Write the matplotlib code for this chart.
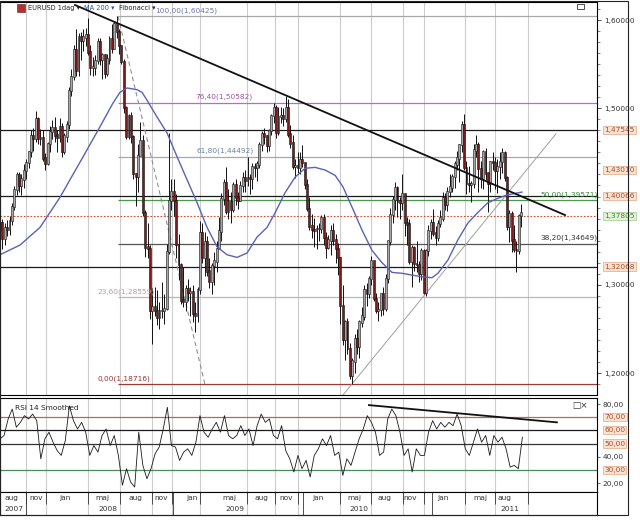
import numpy as np
import matplotlib.pyplot as plt
from matplotlib.patches import Rectangle
from matplotlib.transforms import blended_transform_factory

# Veckoljus EURUSD, vecka 0 = 6 aug 2007
first_open = 1.362
close = [1.370, 1.352, 1.364, 1.362, 1.372, 1.388, 1.407, 1.424, 1.412, 1.419,
         1.429, 1.438, 1.450, 1.468, 1.465, 1.487, 1.465, 1.466, 1.443, 1.437,
         1.459, 1.473, 1.477, 1.469, 1.466, 1.478, 1.451, 1.468, 1.481, 1.519,
         1.535, 1.566, 1.542, 1.580, 1.576, 1.580, 1.583, 1.563, 1.546, 1.546,
         1.553, 1.575, 1.555, 1.560, 1.539, 1.555, 1.578, 1.567, 1.595, 1.586,
         1.570, 1.552, 1.500, 1.467, 1.491, 1.467, 1.425, 1.422, 1.446, 1.462,
         1.381, 1.342, 1.340, 1.270, 1.275, 1.270, 1.262, 1.270, 1.270, 1.272,
         1.337, 1.395, 1.405, 1.395, 1.345, 1.322, 1.282, 1.280, 1.295, 1.291,
         1.292, 1.267, 1.265, 1.294, 1.358, 1.330, 1.348, 1.315, 1.303, 1.321,
         1.326, 1.340, 1.360, 1.397, 1.415, 1.383, 1.393, 1.385, 1.413, 1.398,
         1.395, 1.412, 1.421, 1.418, 1.421, 1.420, 1.433, 1.432, 1.436, 1.458,
         1.470, 1.468, 1.457, 1.474, 1.491, 1.500, 1.472, 1.490, 1.491, 1.488,
         1.500, 1.470, 1.460, 1.434, 1.434, 1.432, 1.441, 1.438, 1.413, 1.386,
         1.366, 1.362, 1.361, 1.363, 1.363, 1.375, 1.353, 1.342, 1.350, 1.361,
         1.350, 1.340, 1.330, 1.276, 1.237, 1.257, 1.227, 1.197, 1.213, 1.238,
         1.230, 1.257, 1.264, 1.294, 1.290, 1.306, 1.327, 1.284, 1.270, 1.271,
         1.289, 1.272, 1.306, 1.349, 1.379, 1.396, 1.409, 1.394, 1.393, 1.403,
         1.370, 1.368, 1.326, 1.341, 1.323, 1.322, 1.312, 1.338, 1.291, 1.338,
         1.361, 1.370, 1.358, 1.353, 1.369, 1.375, 1.398, 1.390, 1.405, 1.410,
         1.422, 1.436, 1.443, 1.458, 1.481, 1.432, 1.414, 1.413, 1.414, 1.452,
         1.458, 1.431, 1.420, 1.450, 1.426, 1.414, 1.439, 1.438, 1.429, 1.433,
         1.439, 1.449, 1.421, 1.365, 1.380, 1.350, 1.339, 1.338, 1.378, 1.381]
high = [1.380, 1.375, 1.370, 1.373, 1.378, 1.393, 1.412, 1.428, 1.428, 1.425,
        1.437, 1.442, 1.452, 1.475, 1.478, 1.497, 1.490, 1.477, 1.475, 1.449,
        1.462, 1.480, 1.487, 1.490, 1.475, 1.489, 1.483, 1.472, 1.486, 1.524,
        1.545, 1.572, 1.590, 1.585, 1.586, 1.590, 1.591, 1.602, 1.572, 1.558,
        1.560, 1.580, 1.580, 1.563, 1.562, 1.561, 1.582, 1.595, 1.599, 1.604,
        1.590, 1.570, 1.556, 1.503, 1.493, 1.496, 1.470, 1.427, 1.460, 1.484,
        1.470, 1.385, 1.370, 1.345, 1.296, 1.298, 1.294, 1.280, 1.303, 1.290,
        1.346, 1.472, 1.420, 1.420, 1.403, 1.358, 1.325, 1.320, 1.300, 1.306,
        1.298, 1.300, 1.280, 1.297, 1.372, 1.370, 1.360, 1.355, 1.330, 1.325,
        1.337, 1.350, 1.377, 1.404, 1.420, 1.434, 1.408, 1.405, 1.417, 1.420,
        1.405, 1.418, 1.428, 1.430, 1.445, 1.426, 1.438, 1.438, 1.440, 1.462,
        1.474, 1.478, 1.470, 1.477, 1.493, 1.506, 1.504, 1.501, 1.501, 1.500,
        1.514, 1.510, 1.481, 1.470, 1.442, 1.451, 1.450, 1.458, 1.439, 1.420,
        1.400, 1.380, 1.376, 1.368, 1.370, 1.379, 1.380, 1.360, 1.356, 1.368,
        1.370, 1.358, 1.347, 1.332, 1.300, 1.260, 1.262, 1.234, 1.217, 1.244,
        1.250, 1.260, 1.275, 1.300, 1.302, 1.310, 1.333, 1.323, 1.291, 1.280,
        1.290, 1.297, 1.312, 1.350, 1.387, 1.401, 1.417, 1.412, 1.400, 1.425,
        1.403, 1.377, 1.375, 1.345, 1.344, 1.350, 1.327, 1.342, 1.340, 1.341,
        1.368, 1.375, 1.386, 1.367, 1.373, 1.385, 1.405, 1.404, 1.411, 1.425,
        1.426, 1.440, 1.452, 1.460, 1.485, 1.494, 1.440, 1.435, 1.418, 1.460,
        1.470, 1.462, 1.440, 1.453, 1.455, 1.425, 1.440, 1.450, 1.445, 1.442,
        1.450, 1.455, 1.452, 1.423, 1.385, 1.384, 1.368, 1.350, 1.380, 1.392]
low = [1.355, 1.340, 1.345, 1.355, 1.356, 1.368, 1.385, 1.402, 1.405, 1.402,
       1.410, 1.420, 1.432, 1.445, 1.452, 1.462, 1.460, 1.458, 1.440, 1.430,
       1.436, 1.450, 1.465, 1.462, 1.450, 1.462, 1.445, 1.448, 1.462, 1.477,
       1.514, 1.532, 1.536, 1.537, 1.555, 1.565, 1.570, 1.560, 1.538, 1.536,
       1.538, 1.550, 1.549, 1.533, 1.534, 1.536, 1.550, 1.563, 1.567, 1.580,
       1.562, 1.550, 1.495, 1.465, 1.465, 1.461, 1.420, 1.389, 1.405, 1.447,
       1.378, 1.332, 1.330, 1.261, 1.233, 1.265, 1.254, 1.250, 1.262, 1.255,
       1.271, 1.335, 1.385, 1.378, 1.330, 1.305, 1.278, 1.275, 1.270, 1.282,
       1.265, 1.258, 1.246, 1.258, 1.290, 1.325, 1.310, 1.310, 1.296, 1.290,
       1.300, 1.315, 1.348, 1.350, 1.390, 1.380, 1.374, 1.370, 1.382, 1.390,
       1.386, 1.395, 1.405, 1.405, 1.412, 1.403, 1.408, 1.422, 1.418, 1.432,
       1.452, 1.460, 1.451, 1.452, 1.470, 1.483, 1.466, 1.470, 1.483, 1.480,
       1.484, 1.467, 1.455, 1.431, 1.421, 1.427, 1.426, 1.434, 1.409, 1.384,
       1.362, 1.353, 1.343, 1.340, 1.350, 1.359, 1.345, 1.330, 1.341, 1.334,
       1.345, 1.325, 1.311, 1.255, 1.232, 1.215, 1.221, 1.193, 1.188, 1.200,
       1.222, 1.217, 1.252, 1.260, 1.276, 1.285, 1.300, 1.282, 1.268, 1.259,
       1.265, 1.266, 1.270, 1.302, 1.345, 1.370, 1.385, 1.377, 1.374, 1.385,
       1.355, 1.345, 1.323, 1.297, 1.316, 1.315, 1.303, 1.305, 1.289, 1.287,
       1.333, 1.352, 1.355, 1.345, 1.350, 1.365, 1.372, 1.385, 1.384, 1.400,
       1.405, 1.410, 1.430, 1.416, 1.450, 1.430, 1.403, 1.405, 1.394, 1.410,
       1.445, 1.405, 1.410, 1.408, 1.419, 1.383, 1.405, 1.430, 1.408, 1.404,
       1.420, 1.427, 1.418, 1.362, 1.349, 1.337, 1.337, 1.315, 1.335, 1.365]

# MA 200 (blå linje), avläst
ma_week = [0, 8.4, 16.8, 25.2, 29.4, 34.9, 42, 47.5, 50.4, 53.4, 57.6, 59.7, 61.8,
           66, 70.2, 74.4, 78.6, 82.8, 87, 91.2, 95.4, 99.6, 103.8, 108, 112.2,
           115.5, 119.7, 124, 128.2, 132.4, 136.6, 140.8, 144.1, 147.9, 152.1,
           156.3, 160.5, 164.7, 168.9, 173.1, 177.3, 181.5, 184, 188.2, 192.4,
           196.6, 200.8, 205, 209.2, 213.4, 219.3]
ma_value = [1.334, 1.345, 1.365, 1.399, 1.419, 1.445, 1.479, 1.506, 1.518, 1.523,
            1.521, 1.518, 1.509, 1.490, 1.472, 1.445, 1.419, 1.393, 1.365, 1.343,
            1.334, 1.331, 1.336, 1.354, 1.365, 1.381, 1.404, 1.422, 1.432, 1.433,
            1.430, 1.424, 1.411, 1.388, 1.362, 1.339, 1.325, 1.314, 1.313, 1.311,
            1.309, 1.308, 1.313, 1.328, 1.351, 1.370, 1.382, 1.393, 1.398, 1.402,
            1.405]

# Fibonacci
fib_pct = ['100,00', '76,40', '61,80', '50,00', '38,20', '23,60', '0,00']
fib_price = [1.60425, 1.50582, 1.44492, 1.39571, 1.34649, 1.28559, 1.18716]

# horisontella linjer
level_price = [1.47545, 1.40066, 1.32068]
last_price = 1.37805
extra_label = 1.43010

# trendlinjer (vecka, pris)
down_trend = [(31.5, 1.6170), (237.4, 1.3790)]
up_trend = [(144.1, 1.1750), (233.6, 1.4710)]
fib_diag = [(49.6, 1.60425), (86.1, 1.18716)]

# RSI 14 Smoothed
rsi = [53.6, 56.1, 68.7, 76.2, 62.4, 66.1, 71.2, 68.7, 72.4, 67.4, 38.4, 53.6, 58.6,
       51.0, 44.7, 41.0, 52.3, 78.7, 67.4, 61.1, 66.1, 58.6, 41.0, 48.5, 43.5, 56.1,
       61.1, 48.5, 56.1, 41.0, 18.3, 30.9, 20.8, 17.0, 58.6, 33.4, 23.3, 30.9, 42.2,
       47.3, 61.1, 77.5, 48.5, 47.3, 37.2, 43.5, 46.0, 41.0, 51.0, 71.2, 58.6, 54.8,
       61.1, 66.1, 58.6, 71.2, 56.1, 53.6, 56.1, 63.6, 56.1, 61.1, 48.5, 63.6, 72.4,
       66.1, 68.7, 56.1, 53.6, 63.6, 44.7, 38.4, 28.4, 41.0, 30.9, 37.2, 24.6, 41.0,
       46.0, 53.6, 48.5, 56.1, 41.0, 43.5, 25.8, 38.4, 33.4, 43.5, 53.6, 61.1, 71.2,
       66.1, 58.6, 41.0, 43.5, 68.7, 76.2, 71.2, 58.6, 41.0, 46.0, 28.4, 46.0, 41.0,
       41.0, 58.6, 67.4, 61.1, 66.1, 62.4, 66.1, 63.6, 72.4, 63.6, 46.0, 41.0, 51.0,
       61.1, 51.0, 56.1, 41.0, 56.1, 51.0, 54.8, 46.0, 32.1, 33.4, 30.9, 54.8]
rsi_levels = [70, 60, 50, 30]
rsi_trend = [(155.0, 79.2), (234.0, 66.1)]

months = ['aug', 'nov', 'jan', 'maj', 'aug', 'nov', 'jan', 'maj', 'aug', 'nov',
          'jan', 'maj', 'aug', 'nov', 'jan', 'maj', 'aug']
years = ['2007', '2008', '2009', '2010', '2011']

# layout i pixlar
PX = 2.38  # pixlar per vecka
month_px = [11, 36, 65, 102, 135, 161, 192, 229, 261, 286, 318, 354, 384, 410, 443, 480, 504]
year_px = [14, 108, 235, 359, 510]
grid_px = [26, 46, 88, 120, 152, 172, 200, 247, 275, 298, 340, 371, 403, 424, 465, 495, 528]
yearsep_px = [26, 173, 303, 432]

W, H = 640, 525
fig = plt.figure(figsize=(6.4, 5.25), dpi=100)
fs = 5.3

ax = fig.add_axes([0, 1 - 395 / H, 597 / W, 393 / H])
ax2 = fig.add_axes([0, 1 - 492 / H, 597 / W, 94 / H])
ax3 = fig.add_axes([0, 1 - 515 / H, 597 / W, 23 / H])
xmax = 597 / PX
for a in (ax, ax2, ax3):
    a.set_xlim(0, xmax)
    for g in grid_px:
        a.axvline(g / PX, color='#cccccc', lw=0.8, zorder=0)

# --- pris ---
close = np.array(close)
high = np.array(high)
low = np.array(low)
opens = np.r_[first_open, close[:-1]]
weeks = np.arange(len(close))
up = close >= opens
ax.vlines(weeks, low, high, color='#111111', lw=0.7, zorder=3)
ax.bar(weeks[up], (close - opens)[up] + 0.0015, bottom=opens[up], width=0.8,
       color='#a8a8a8', edgecolor='#111111', lw=0.4, zorder=4)
ax.bar(weeks[~up], (opens - close)[~up] + 0.0015, bottom=close[~up], width=0.8,
       color='#7a1a1a', edgecolor='#111111', lw=0.4, zorder=4)

ax.plot(ma_week, ma_value, color='#5a62b4', lw=1.0, zorder=5)

fib_colors = ['#a8a8a8', '#b070c0', '#a8a8a8', '#4a9a4a', '#555555', '#b8b8b8', '#a03838']
fib_text_col = ['#6878a8', '#a050a8', '#7080a0', '#3a8a3a', '#333333', '#c09a9a', '#a03030']
fib_label_px = [155, 195, 197, 540, 540, 97, 98]
fib_start = 118 / PX
for p, lab, c, tc, lx in zip(fib_price, fib_pct, fib_colors, fib_text_col, fib_label_px):
    ax.hlines(p, fib_start, xmax, color=c, lw=0.9, zorder=2)
    ax.text(lx / PX, p + 0.003, '%s(%s)' % (lab, ('%.5f' % p).replace('.', ',')),
            fontsize=fs, color=tc, va='bottom', ha='left', zorder=6)

for p in level_price:
    ax.axhline(p, color='#1a1a1a', lw=0.9, zorder=2)
ax.axhline(last_price, color='#d04a30', lw=0.8, ls=(0, (1.5, 1.5)), zorder=2)

ax.plot(*zip(*down_trend), color='#111111', lw=1.3, zorder=6)
ax.plot(*zip(*up_trend), color='#a0a0a0', lw=0.7, zorder=2)
ax.plot(*zip(*fib_diag), color='#909090', lw=0.8, ls=(0, (4, 3)), zorder=2)

ax.set_ylim(1.1751, 1.6204)
ax.yaxis.tick_right()
ax.set_yticks([1.2, 1.3, 1.5, 1.6])
ax.set_yticklabels(['1,20000', '1,30000', '1,50000', '1,60000'])
ax.set_yticks(np.arange(1.1875, 1.62, 0.0125), minor=True)
ax.tick_params(axis='y', labelsize=fs, colors='#333333', length=3, width=0.6, pad=2)
ax.tick_params(axis='y', which='minor', length=2, width=0.5, colors='#555555')
ax.set_xticks([])
for s in ax.spines.values():
    s.set_linewidth(0.8)

tr = blended_transform_factory(ax.transAxes, ax.transData)
box_orange = dict(boxstyle='square,pad=0.15', fc='#fbe3d2', ec='#e0a888', lw=0.5)
box_green = dict(boxstyle='square,pad=0.15', fc='#e4f4d8', ec='#a0c890', lw=0.5)
for p in level_price + [extra_label]:
    ax.text(1.012, p, '1,' + ('%.5f' % p)[2:], transform=tr, fontsize=fs,
            color='#b04a2a', va='center', ha='left', bbox=box_orange, clip_on=False)
ax.text(1.012, last_price, '1,' + ('%.5f' % last_price)[2:], transform=tr, fontsize=fs,
        color='#3a8a3a', va='center', ha='left', bbox=box_green, clip_on=False)

# rubrik
hfs = 4.8
fig.patches.append(Rectangle((17 / W, 1 - 12 / H), 8 / W, 8 / H, transform=fig.transFigure,
                             fc='#b03030', ec='#602020', lw=0.4))
fig.text(28 / W, 1 - 8 / H, 'EURUSD 1dag ▾', fontsize=hfs, color='#222222', va='center')
fig.text(84 / W, 1 - 8 / H, 'MA 200 ▾', fontsize=hfs, color='#3050a0', va='center')
fig.text(119 / W, 1 - 8 / H, 'Fibonacci ▾', fontsize=hfs, color='#222222', va='center')
fig.patches.append(Rectangle((577 / W, 1 - 9 / H), 7 / W, 5 / H, transform=fig.transFigure,
                             fc='white', ec='#333333', lw=0.6))

# --- RSI ---
rsi_x = np.linspace(0, 219.5, len(rsi))
rsi_col = ['#a07068', '#1a1a1a', '#333333', '#4a8a5a']
for lv, c in zip(rsi_levels, rsi_col):
    ax2.axhline(lv, color=c, lw=0.9, zorder=1)
ax2.plot(rsi_x, rsi, color='#1a1a1a', lw=0.6, zorder=3)
ax2.plot(*zip(*rsi_trend), color='#111111', lw=1.3, zorder=4)
ax2.set_ylim(13.2, 84.6)
ax2.yaxis.tick_right()
ax2.set_yticks([20, 40, 80])
ax2.set_yticklabels(['20,00', '40,00', '80,00'])
ax2.tick_params(axis='y', labelsize=fs, colors='#333333', length=2, width=0.5, pad=2)
ax2.set_xticks([])
for s in ax2.spines.values():
    s.set_linewidth(0.8)
tr2 = blended_transform_factory(ax2.transAxes, ax2.transData)
for lv in rsi_levels:
    ax2.text(1.012, lv, '%d,00' % lv, transform=tr2, fontsize=fs, color='#b04a2a',
             va='center', ha='left', bbox=box_orange, clip_on=False)
ax2.text(0.025, 0.93, 'RSI 14 Smoothed', transform=ax2.transAxes, fontsize=fs,
         color='#222222', va='top')
ax2.text(0.985, 0.97, '□×', transform=ax2.transAxes, fontsize=fs + 1, color='#333333',
         va='top', ha='right')

# --- datumaxel ---
ax3.set_ylim(0, 1)
ax3.set_xticks([])
ax3.set_yticks([])
for s in ax3.spines.values():
    s.set_linewidth(0.8)
for m, px in zip(months, month_px):
    ax3.text(px / PX, 0.72, m, fontsize=fs, color='#333333', ha='center', va='center')
for y, px in zip(years, year_px):
    ax3.text(px / PX, 0.25, y, fontsize=fs, color='#333333', ha='center', va='center')
for g in grid_px:
    ax3.vlines(g / PX, 0.5, 1, color='#333333', lw=0.6)
for g in yearsep_px:
    ax3.vlines(g / PX, 0, 1, color='#333333', lw=0.6)

# ram
fig.patches.append(Rectangle((0, 1 - 515 / H), 628 / W, 514 / H, transform=fig.transFigure,
                             fill=False, ec='#222222', lw=0.8))

fig.savefig('out.png', dpi=100)
